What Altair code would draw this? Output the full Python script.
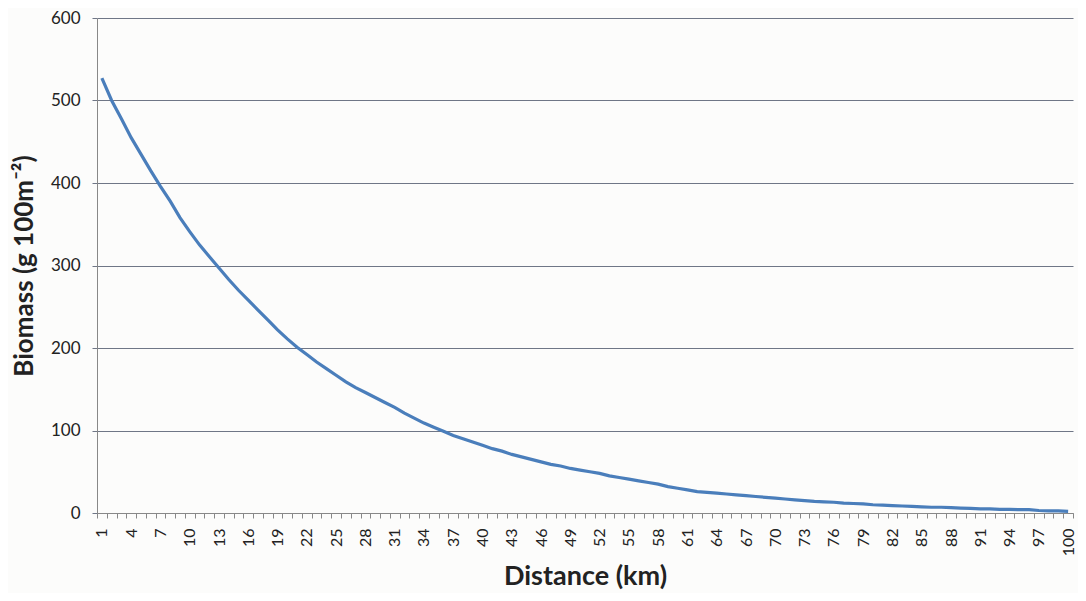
import altair as alt
import pandas as pd

distance_km = list(range(1, 101))
biomass = [
    527, 500, 478, 455, 435, 415, 396, 378, 358, 341,
    325, 311, 297, 283, 270, 258, 246, 234, 222, 211,
    201, 192, 183, 175, 167, 159, 152, 146, 140, 134,
    128, 121, 115, 109, 104, 99, 94, 90, 86, 82,
    78, 75, 71, 68, 65, 62, 59, 57, 54, 52,
    50, 48, 45, 43, 41, 39, 37, 35, 32, 30,
    28, 26, 25, 24, 23, 22, 21, 20, 19, 18,
    17, 16, 15, 14, 13.5, 13, 12, 11.5, 11, 10,
    9.5, 9, 8.5, 8, 7.5, 7, 7, 6.5, 6, 5.5,
    5, 5, 4.5, 4.5, 4, 4, 3, 2.5, 2.5, 2,
]
y_ticks = [0, 100, 200, 300, 400, 500, 600]

df = pd.DataFrame({"Distance": distance_km, "Biomass": biomass})

FONT = "Lato"

chart = (
    alt.Chart(df)
    .mark_line(color="#4a7ebb", strokeWidth=3.2)
    .encode(
        x=alt.X(
            "Distance:O",
            scale=alt.Scale(type="band", paddingInner=0, paddingOuter=0),
            sort=distance_km,
            axis=alt.Axis(
                title="Distance (km)",
                labelAngle=270,
                labelExpr="(datum.value - 1) % 3 == 0 ? datum.label : ''",
                labelOverlap=False,
                tickBand="extent",
                tickSize=5,
                tickColor="#888888",
                domainColor="#888888",
                labelPadding=10,
                labelFontSize=16,
                labelColor="#222222",
                labelFont=FONT,
                titleFont=FONT,
                titleFontSize=27,
                titleFontWeight="bold",
                titleColor="#222222",
                titlePadding=8,
                grid=False,
            ),
        ),
        y=alt.Y(
            "Biomass:Q",
            scale=alt.Scale(domain=[0, 600], nice=False),
            axis=alt.Axis(
                title="Biomass (g 100m⁻²)",
                values=y_ticks,
                tickSize=5,
                tickColor="#6f7686",
                domainColor="#888888",
                gridColor="#6f7686",
                gridWidth=1,
                labelPadding=12,
                labelFontSize=17,
                labelColor="#222222",
                labelFont=FONT,
                titleFont=FONT,
                titleFontSize=26,
                titleFontWeight="bold",
                titleColor="#222222",
                titlePadding=13,
            ),
        ),
    )
    .properties(
        width=976,
        height=495,
        background="#fcfcfb",
        padding={"left": 89, "top": 10, "right": 5, "bottom": 80},
        autosize=alt.AutoSizeParams(type="none"),
    )
    .configure_view(stroke=None)
)

chart.save("out.html", embed_options={"renderer": "svg", "actions": False})
